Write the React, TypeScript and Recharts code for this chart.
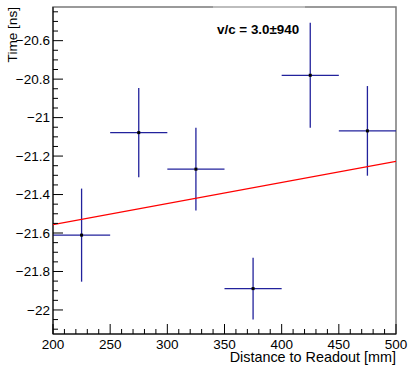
import {
  ComposedChart,
  ErrorBar,
  ReferenceArea,
  Scatter,
  XAxis,
  YAxis,
} from "recharts";

const distances = [225, 275, 325, 375, 425, 475];
const distanceErrs = [25, 25, 25, 25, 25, 25];
const times = [-21.611, -21.078, -21.268, -21.889, -20.78, -21.069];
const timeErrs = [0.242, 0.232, 0.215, 0.16, 0.273, 0.233];

const fitDistances = [200, 500];
const fitTimes = [-21.556, -21.227];

const xMajorTicks = [200, 250, 300, 350, 400, 450, 500];
const yMajorTicks = [-22, -21.8, -21.6, -21.4, -21.2, -21, -20.8, -20.6];

const X_DOMAIN: [number, number] = [200, 500];
const Y_DOMAIN: [number, number] = [-22.125, -20.425];

const FONT = "'Liberation Sans', Arial, sans-serif";
const ERR_COLOR = "#22229c";

const points = distances.map((d, i) => ({
  x: d,
  y: times[i],
  ex: distanceErrs[i],
  ey: timeErrs[i],
}));

const fitLine = fitDistances.map((d, i) => ({ x: d, y: fitTimes[i] }));

// minor ticks: every 10 mm on x, every 0.05 ns on y
const xTicks: number[] = [];
for (let v = 200; v <= 500; v += 10) xTicks.push(v);
const yTicks: number[] = [];
for (let k = -442; k <= -409; k++) {
  const v = Math.round(k * 5) / 100;
  if (v >= Y_DOMAIN[0] && v <= Y_DOMAIN[1]) yTicks.push(v);
}

const isMajor = (v: number, list: number[]) =>
  list.some((m) => Math.abs(m - v) < 1e-6);

const fmt = (v: number) => String(v).replace("-", "\u2212");

function XTick(props: any) {
  const { x, y, payload } = props;
  const major = isMajor(payload.value, xMajorTicks);
  return (
    <g>
      <line x1={x} x2={x} y1={y} y2={y - (major ? 10 : 5)} stroke="#000" />
      {major && (
        <text
          x={x}
          y={y + 14.5}
          textAnchor="middle"
          fontSize={13.5}
          fontFamily={FONT}
          fill="#000"
        >
          {payload.value}
        </text>
      )}
    </g>
  );
}

function YTick(props: any) {
  const { x, y, payload } = props;
  const major = isMajor(payload.value, yMajorTicks);
  return (
    <g>
      <line x1={x} x2={x + (major ? 10 : 5)} y1={y} y2={y} stroke="#000" />
      {major && (
        <text
          x={x - 3}
          y={y + 4.7}
          textAnchor="end"
          fontSize={13.5}
          fontFamily={FONT}
          fill="#000"
        >
          {fmt(payload.value)}
        </text>
      )}
    </g>
  );
}

const Dot = (props: any) => {
  const { cx, cy } = props;
  if (cx == null || cy == null) return null;
  return <rect x={cx - 1.5} y={cy - 1.5} width={3} height={3} fill="#000" />;
};

export default function App() {
  return (
    <div
      style={{
        position: "absolute",
        left: 0,
        top: 0,
        width: 409,
        height: 365,
        background: "#fff",
      }}
    >
      <ComposedChart
        width={409}
        height={365}
        margin={{ top: 7, right: 13, bottom: 0, left: 0 }}
      >
        <ReferenceArea
          x1={X_DOMAIN[0]}
          x2={X_DOMAIN[1]}
          y1={Y_DOMAIN[0]}
          y2={Y_DOMAIN[1]}
          fill="none"
          stroke="#7a7a7a"
          strokeWidth={1.5}
          ifOverflow="visible"
        />
        <XAxis
          type="number"
          dataKey="x"
          domain={X_DOMAIN}
          ticks={xTicks}
          interval={0}
          allowDataOverflow
          height={31}
          tickSize={0}
          tickMargin={0}
          tick={<XTick />}
          axisLine={{ stroke: "#000" }}
        />
        <YAxis
          type="number"
          dataKey="y"
          domain={Y_DOMAIN}
          ticks={yTicks}
          interval={0}
          allowDataOverflow
          width={53}
          tickSize={0}
          tickMargin={0}
          tick={<YTick />}
          axisLine={{ stroke: "#000" }}
        />
        <Scatter
          data={fitLine}
          line={{ stroke: "#ff0000", strokeWidth: 1.3 }}
          shape={() => null}
          isAnimationActive={false}
        />
        <Scatter data={points} shape={<Dot />} isAnimationActive={false}>
          <ErrorBar
            dataKey="ex"
            direction="x"
            width={0}
            stroke={ERR_COLOR}
            strokeWidth={1.3}
            isAnimationActive={false}
          />
          <ErrorBar
            dataKey="ey"
            direction="y"
            width={0}
            stroke={ERR_COLOR}
            strokeWidth={1.3}
            isAnimationActive={false}
          />
        </Scatter>
      </ComposedChart>
      <div
        style={{
          position: "absolute",
          left: 213,
          top: 6,
          width: 92,
          height: 1.5,
          background: "#bdbdbd",
        }}
      />
      <svg
        width={409}
        height={365}
        style={{ position: "absolute", left: 0, top: 0, pointerEvents: "none" }}
      >
        <text
          x={217}
          y={34}
          fontSize={13.4}
          fontWeight="bold"
          fontFamily={FONT}
          fill="#000"
        >
          v/c = 3.0±940
        </text>
        <text
          x={396}
          y={361.5}
          textAnchor="end"
          fontSize={14.4}
          fontFamily={FONT}
          fill="#000"
        >
          Distance to Readout [mm]
        </text>
        <text
          transform="translate(17, 7) rotate(-90)"
          textAnchor="end"
          fontSize={13.6}
          fontFamily={FONT}
          fill="#000"
        >
          Time [ns]
        </text>
      </svg>
    </div>
  );
}
